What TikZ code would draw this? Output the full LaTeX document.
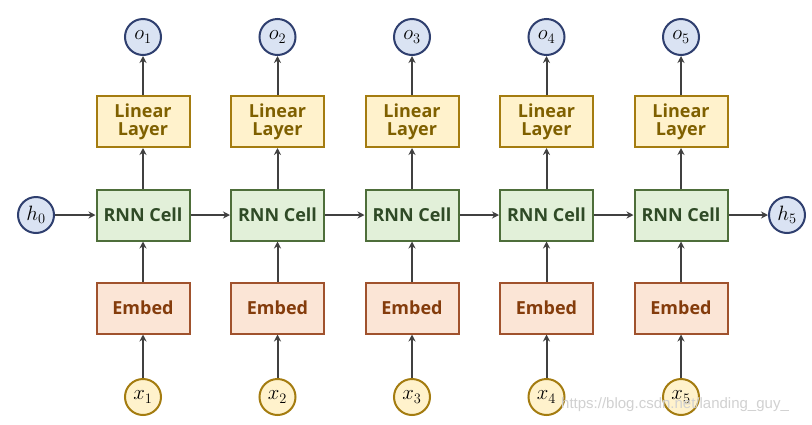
\documentclass[tikz,border=0pt]{standalone}
\usepackage{fontspec}
\setsansfont{Open Sans}
\newfontfamily\wmfont{Liberation Sans}
\usetikzlibrary{arrows.meta}
\definecolor{cblueF}{HTML}{DAE3F3}
\definecolor{cblueD}{HTML}{2F3F6F}
\definecolor{cyelF}{HTML}{FFF2CC}
\definecolor{cyelD}{HTML}{A47C10}
\definecolor{cyelT}{HTML}{7F6000}
\definecolor{cgreF}{HTML}{E2F0D9}
\definecolor{cgreD}{HTML}{4E6E3A}
\definecolor{cgreT}{HTML}{2F4A26}
\definecolor{corgF}{HTML}{FBE5D6}
\definecolor{corgD}{HTML}{A0522D}
\definecolor{corgT}{HTML}{843C0C}
\definecolor{carr}{HTML}{404040}
\tikzset{
  base/.style={minimum width=93pt,minimum height=51pt,line width=2pt,inner sep=0pt,align=center,font=\sffamily\bfseries\fontsize{18}{20}\selectfont},
  linbox/.style={base,fill=cyelF,draw=cyelD,text=cyelT},
  rnnbox/.style={base,fill=cgreF,draw=cgreD,text=cgreT},
  embbox/.style={base,fill=corgF,draw=corgD,text=corgT},
  bcirc/.style={circle,minimum size=36pt,inner sep=0pt,fill=cblueF,draw=cblueD,line width=2pt,font=\fontsize{20}{22}\selectfont},
  ycirc/.style={circle,minimum size=36pt,inner sep=0pt,fill=cyelF,draw=cyelD,line width=2pt,font=\fontsize{20}{22}\selectfont},
  conn/.style={draw=carr,line width=2pt,-{Stealth[length=7pt,width=7pt]}}
}
\begin{document}
\begin{tikzpicture}[x=1pt,y=-1pt]
\useasboundingbox[fill=white] (0,0) rectangle (812,424);
\foreach \i/\cx in {1/143,2/277.5,3/412,4/546.5,5/681}{
  \node[bcirc] (o\i) at (\cx,37) {$o_{\i}$};
  \node[linbox] (l\i) at (\cx,121.5) {Linear\\[-2pt]Layer};
  \node[rnnbox] (r\i) at (\cx,215) {RNN Cell};
  \node[embbox] (e\i) at (\cx,308) {Embed};
  \node[ycirc] (x\i) at (\cx,397) {$x_{\i}$};
  \draw[conn] (x\i) -- (e\i);
  \draw[conn] (e\i) -- (r\i);
  \draw[conn] (r\i) -- (l\i);
  \draw[conn] (l\i) -- (o\i);
}
\node[bcirc] (h0) at (36,215) {$h_0$};
\node[bcirc] (h5) at (787,215) {$h_5$};
\draw[conn] (h0) -- (r1);
\draw[conn] (r1) -- (r2);
\draw[conn] (r2) -- (r3);
\draw[conn] (r3) -- (r4);
\draw[conn] (r4) -- (r5);
\draw[conn] (r5) -- (h5);
\node[anchor=west,text=black!18,font=\wmfont\fontsize{15}{17}\selectfont,inner sep=0pt] (wm) at (561,405) {https://blog.csdn.net/landing\_guy\_};
\end{tikzpicture}
\end{document}
